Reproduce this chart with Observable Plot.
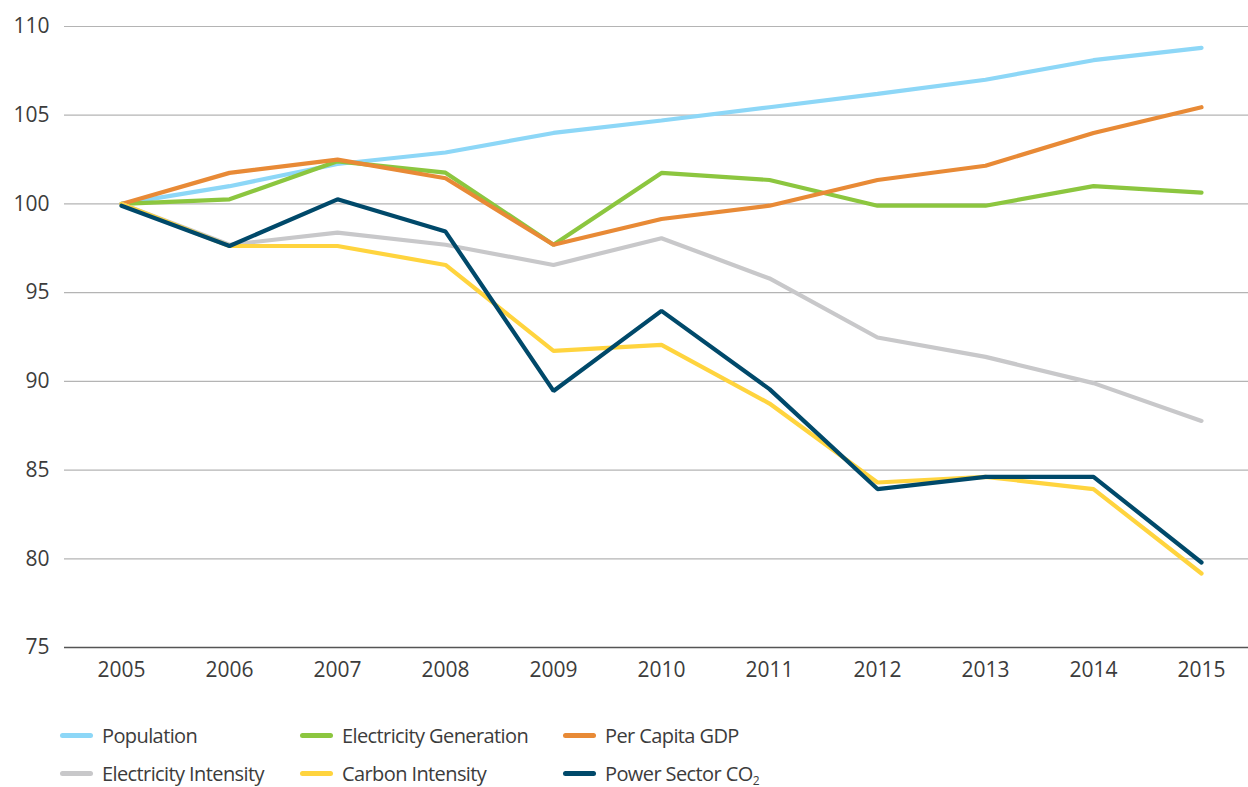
<!DOCTYPE html>
<html><head><meta charset="utf-8">
<script src="https://cdn.jsdelivr.net/npm/d3@7"></script>
<script src="https://cdn.jsdelivr.net/npm/@observablehq/plot@0.6"></script>
<style>
html,body{margin:0;padding:0;background:#fff;}
body{width:1248px;height:787px;overflow:hidden;font-family:"Open Sans",sans-serif;color:#3c3c3c;}
#legend{display:grid;grid-template-columns:240px 263px 300px;grid-auto-rows:38px;padding:16px 0 0 60px;box-sizing:border-box;height:87px;}
.item{display:flex;align-items:center;font-size:20px;letter-spacing:-0.6px;}
.sw{width:33px;height:5px;border-radius:3px;margin-right:9px;flex:none;}
sub{font-size:12px;vertical-align:-4px;line-height:0;}
</style></head><body>
<div id="chart"></div>
<div id="legend"></div>
<script>
const years = [2005,2006,2007,2008,2009,2010,2011,2012,2013,2014,2015];
const population = [100,101.0,102.25,102.9,104.0,104.7,105.45,106.2,107.0,108.1,108.8];
const electricityGeneration = [100,100.26,102.4,101.76,97.7,101.75,101.35,99.9,99.9,101.0,100.64];
const perCapitaGDP = [100,101.75,102.5,101.45,97.7,99.15,99.9,101.35,102.15,104.0,105.45];
const electricityIntensity = [100,97.7,98.38,97.7,96.56,98.07,95.8,92.47,91.38,89.9,87.77];
const carbonIntensity = [100,97.63,97.63,96.56,91.72,92.06,88.75,84.3,84.62,83.93,79.17];
const powerSectorCO2 = [99.9,97.63,100.26,98.44,89.46,93.97,89.56,83.93,84.62,84.62,79.79];
const yTicks = [75,80,85,90,95,100,105,110];

const seriesNames = ["Population","Electricity Generation","Per Capita GDP","Electricity Intensity","Carbon Intensity","Power Sector CO2"];
const legendLabels = ["Population","Electricity Generation","Per Capita GDP","Electricity Intensity","Carbon Intensity","Power Sector CO<sub>2</sub>"];
const seriesValues = [population,electricityGeneration,perCapitaGDP,electricityIntensity,carbonIntensity,powerSectorCO2];
const seriesColors = ["#8dd7f7","#8cc63f","#e88a36","#c8c8ca","#ffd43e","#00496a"];
const drawOrder = [0,1,2,3,4,5];

const rows = [];
drawOrder.forEach(i => years.forEach((yr,j) => rows.push({series:seriesNames[i], year:yr, value:seriesValues[i][j]})));

const chart = Plot.plot({
  width:1248, height:700,
  marginLeft:64, marginRight:-9, marginTop:26, marginBottom:53,
  style:{fontFamily:"Open Sans, sans-serif", fontSize:"21px", color:"#3c3c3c", background:"#fff", overflow:"visible"},
  x:{type:"point", domain:years, padding:0.5, label:null},
  y:{domain:[75,110], ticks:yTicks, label:null},
  color:{domain:seriesNames, range:seriesColors},
  marks:[
    Plot.ruleY(yTicks.filter(t=>t>75), {stroke:"#b4b4b4", strokeWidth:1.2}),
    Plot.ruleY([75], {stroke:"#555", strokeWidth:1.6}),
    Plot.axisY({ticks:yTicks, tickSize:0, tickPadding:15, fontSize:21, letterSpacing:-0.5}),
    Plot.axisX({tickSize:0, tickPadding:15, fontSize:21, letterSpacing:-0.5, tickFormat:d => String(d)}),
    Plot.line(rows, {x:"year", y:"value", z:"series", stroke:"series", strokeWidth:4.2, strokeLinejoin:"miter", strokeLinecap:"round"})
  ]
});
document.getElementById("chart").appendChild(chart);

const legend = document.getElementById("legend");
[0,1,2,3,4,5].forEach(i => {
  const d = document.createElement("div");
  d.className = "item";
  d.innerHTML = `<span class="sw" style="background:${seriesColors[i]}"></span><span>${legendLabels[i]}</span>`;
  legend.appendChild(d);
});
</script>
</body></html>
